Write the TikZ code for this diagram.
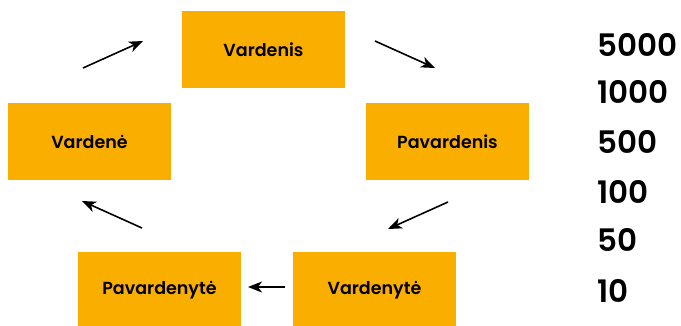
\documentclass[tikz,border=0pt]{standalone}
\usepackage{fontspec}
\setmainfont{Poppins}[BoldFont={Poppins SemiBold}]
\usetikzlibrary{arrows.meta}
\definecolor{boxorange}{RGB}{249,174,0}
\tikzset{
    namebox/.style={fill=boxorange, minimum width=163pt, minimum height=77pt,
        inner sep=0pt, font=\fontsize{17.5}{20}\selectfont\bfseries},
    cycarrow/.style={-{Stealth[length=14pt,width=11pt,inset=4pt]}, line width=1.6pt},
    num/.style={anchor=west, inner sep=0pt, font=\fontsize{31}{40}\selectfont\bfseries}
}
\begin{document}
\begin{tikzpicture}[x=1pt, y=-1pt]
    \useasboundingbox (0, 0) rectangle (681, 325);
    % boxes
    \node[namebox] (vardenis) at (263.5, 49.5) {Vardenis};
    \node[namebox] (vardene) at (89.5, 141.5) {Vardenė};
    \node[namebox] (pavardenis) at (447.5, 141.5) {Pavardenis};
    \node[namebox] (pavardenyte) at (159.5, 290.5) {Pavardenytė};
    \node[namebox] (vardenyte) at (374.5, 290.5) {Vardenytė};
    % arrow ends
    \coordinate (a1s) at (83, 68);
    \coordinate (a1e) at (143, 41);
    \coordinate (a2s) at (375, 41);
    \coordinate (a2e) at (435, 68);
    \coordinate (a3s) at (448, 202);
    \coordinate (a3e) at (388, 229);
    \coordinate (a4s) at (285, 287);
    \coordinate (a4e) at (248, 287);
    \coordinate (a5s) at (142, 228);
    \coordinate (a5e) at (82, 201);
    \draw[cycarrow] (a1s) -- (a1e);
    \draw[cycarrow] (a2s) -- (a2e);
    \draw[cycarrow] (a3s) -- (a3e);
    \draw[cycarrow] (a4s) -- (a4e);
    \draw[cycarrow] (a5s) -- (a5e);
    % numbers
    \node[num] (n5000) at (597, 44.5) {5000};
    \node[num] (n1000) at (597, 92) {1000};
    \node[num] (n500) at (597, 141.5) {500};
    \node[num] (n100) at (597, 192) {100};
    \node[num] (n50) at (597, 240) {50};
    \node[num] (n10) at (597, 291) {10};
\end{tikzpicture}
\end{document}
